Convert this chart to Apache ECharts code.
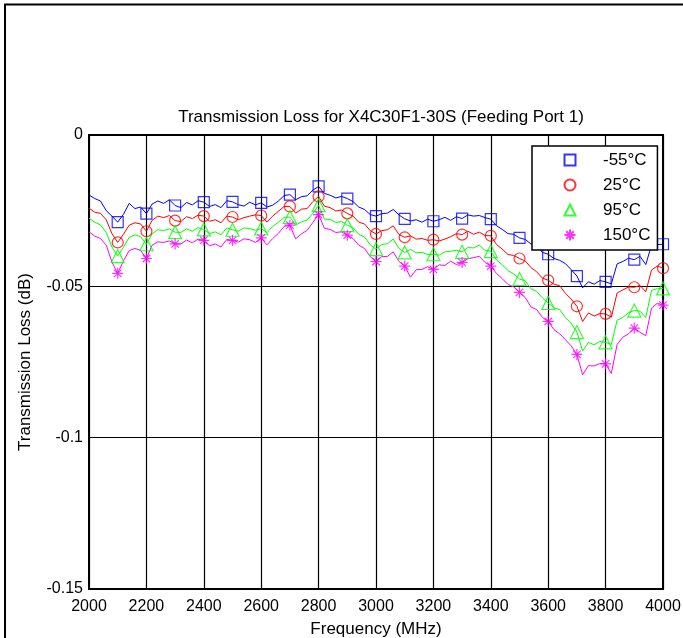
<!DOCTYPE html>
<html>
<head>
<meta charset="utf-8">
<script src="https://cdn.jsdelivr.net/npm/echarts@6/dist/echarts.min.js"></script>
<style>
html,body{margin:0;padding:0;background:#fff;}
#chart{width:683px;height:638px;}
</style>
</head>
<body>
<div id="chart"></div>
<script>
// Frequency axis: 2000..4000 MHz every 20 MHz
var freqStart = 2000;
var freqStep = 20;

var seriesNames = ['-55°C', '25°C', '95°C', '150°C'];

var lossM55 = [
-0.0198,-0.0210,-0.0218,-0.0250,-0.0268,-0.0288,-0.0262,-0.0226,-0.0243,-0.0238,
-0.0260,-0.0228,-0.0218,-0.0226,-0.0214,-0.0233,-0.0240,-0.0223,-0.0231,-0.0217,
-0.0222,-0.0236,-0.0230,-0.0240,-0.0217,-0.0221,-0.0230,-0.0235,-0.0222,-0.0231,
-0.0224,-0.0238,-0.0232,-0.0218,-0.0200,-0.0197,-0.0214,-0.0204,-0.0201,-0.0182,
-0.0170,-0.0193,-0.0199,-0.0208,-0.0203,-0.0210,-0.0220,-0.0238,-0.0246,-0.0263,
-0.0268,-0.0260,-0.0258,-0.0246,-0.0264,-0.0277,-0.0284,-0.0280,-0.0288,-0.0278,
-0.0285,-0.0280,-0.0272,-0.0282,-0.0270,-0.0276,-0.0264,-0.0268,-0.0266,-0.0273,
-0.0278,-0.0300,-0.0312,-0.0326,-0.0328,-0.0340,-0.0345,-0.0360,-0.0368,-0.0388,
-0.0394,-0.0408,-0.0414,-0.0425,-0.0445,-0.0466,-0.0505,-0.0485,-0.0493,-0.0481,
-0.0485,-0.0492,-0.0426,-0.0418,-0.0407,-0.0412,-0.0401,-0.0428,-0.0364,-0.0362,
-0.0361
];
var loss25 = [
-0.0242,-0.0255,-0.0259,-0.0280,-0.0326,-0.0355,-0.0328,-0.0298,-0.0290,-0.0294,
-0.0318,-0.0282,-0.0268,-0.0273,-0.0266,-0.0283,-0.0286,-0.0270,-0.0276,-0.0265,
-0.0268,-0.0285,-0.0280,-0.0290,-0.0268,-0.0271,-0.0280,-0.0273,-0.0268,-0.0264,
-0.0266,-0.0288,-0.0268,-0.0252,-0.0236,-0.0236,-0.0258,-0.0245,-0.0243,-0.0220,
-0.0203,-0.0235,-0.0240,-0.0251,-0.0248,-0.0259,-0.0268,-0.0288,-0.0294,-0.0316,
-0.0327,-0.0316,-0.0313,-0.0300,-0.0329,-0.0338,-0.0333,-0.0344,-0.0342,-0.0348,
-0.0346,-0.0350,-0.0344,-0.0336,-0.0326,-0.0329,-0.0318,-0.0328,-0.0321,-0.0332,
-0.0333,-0.0362,-0.0377,-0.0395,-0.0398,-0.0408,-0.0416,-0.0438,-0.0452,-0.0473,
-0.0480,-0.0493,-0.0498,-0.0523,-0.0542,-0.0566,-0.0616,-0.0588,-0.0598,-0.0590,
-0.0591,-0.0602,-0.0522,-0.0512,-0.0502,-0.0503,-0.0497,-0.0518,-0.0446,-0.0433,
-0.0440
];
var loss95 = [
-0.0275,-0.0288,-0.0297,-0.0322,-0.0370,-0.0400,-0.0371,-0.0338,-0.0330,-0.0336,
-0.0361,-0.0326,-0.0313,-0.0316,-0.0310,-0.0321,-0.0322,-0.0310,-0.0318,-0.0306,
-0.0312,-0.0326,-0.0320,-0.0330,-0.0307,-0.0313,-0.0318,-0.0307,-0.0309,-0.0315,
-0.0309,-0.0323,-0.0302,-0.0288,-0.0272,-0.0271,-0.0298,-0.0287,-0.0281,-0.0259,
-0.0232,-0.0278,-0.0279,-0.0289,-0.0286,-0.0298,-0.0307,-0.0328,-0.0337,-0.0363,
-0.0377,-0.0362,-0.0359,-0.0344,-0.0375,-0.0388,-0.0378,-0.0389,-0.0388,-0.0395,
-0.0394,-0.0397,-0.0386,-0.0384,-0.0381,-0.0386,-0.0372,-0.0373,-0.0364,-0.0381,
-0.0384,-0.0413,-0.0429,-0.0448,-0.0459,-0.0476,-0.0482,-0.0508,-0.0517,-0.0538,
-0.0555,-0.0571,-0.0577,-0.0603,-0.0622,-0.0651,-0.0714,-0.0685,-0.0693,-0.0682,
-0.0685,-0.0692,-0.0612,-0.0603,-0.0587,-0.0580,-0.0582,-0.0603,-0.0513,-0.0508,
-0.0507
];
var loss150 = [
-0.0320,-0.0334,-0.0342,-0.0364,-0.0420,-0.0457,-0.0416,-0.0382,-0.0375,-0.0381,
-0.0408,-0.0364,-0.0353,-0.0355,-0.0350,-0.0360,-0.0360,-0.0347,-0.0356,-0.0344,
-0.0348,-0.0366,-0.0360,-0.0370,-0.0345,-0.0348,-0.0354,-0.0343,-0.0346,-0.0355,
-0.0340,-0.0363,-0.0342,-0.0325,-0.0302,-0.0298,-0.0343,-0.0327,-0.0315,-0.0289,
-0.0263,-0.0308,-0.0312,-0.0322,-0.0320,-0.0331,-0.0342,-0.0364,-0.0375,-0.0402,
-0.0418,-0.0402,-0.0401,-0.0386,-0.0418,-0.0433,-0.0470,-0.0445,-0.0444,-0.0435,
-0.0444,-0.0429,-0.0431,-0.0417,-0.0428,-0.0421,-0.0409,-0.0405,-0.0401,-0.0421,
-0.0433,-0.0458,-0.0475,-0.0494,-0.0502,-0.0520,-0.0537,-0.0568,-0.0577,-0.0603,
-0.0616,-0.0643,-0.0657,-0.0676,-0.0697,-0.0725,-0.0792,-0.0762,-0.0763,-0.0755,
-0.0756,-0.0788,-0.0692,-0.0668,-0.0657,-0.0638,-0.0652,-0.0663,-0.0572,-0.0556,
-0.0562
];

var xTicks = [2000, 2200, 2400, 2600, 2800, 3000, 3200, 3400, 3600, 3800, 4000];
var yTicks = [0, -0.05, -0.1, -0.15];

var FONT = '"Liberation Sans", Arial, sans-serif';
var colors = ['#0000ff', '#ff0000', '#00ff00', '#ff00ff'];
var symbols = ['rect', 'circle', 'triangle',
  'path://M5,0L5,10M0,5L10,5M1.6,1.6L8.4,8.4M1.6,8.4L8.4,1.6'];
var symbolSizes = [11, 11, 13, 11];
var allLoss = [lossM55, loss25, loss95, loss150];

function toPairs(arr) {
  return arr.map(function (v, i) { return [freqStart + i * freqStep, v]; });
}
function markers(arr) {
  var out = [];
  for (var i = 5; i < arr.length; i += 5) out.push([freqStart + i * freqStep, arr[i]]);
  return out;
}

var series = [];
allLoss.forEach(function (arr, k) {
  series.push({
    name: seriesNames[k] + ' line',
    type: 'line',
    data: toPairs(arr),
    showSymbol: false,
    symbol: 'none',
    lineStyle: { color: colors[k], width: 1 },
    itemStyle: { color: colors[k] },
    z: 2,
    silent: true,
    animation: false
  });
});
allLoss.forEach(function (arr, k) {
  series.push({
    name: seriesNames[k],
    type: 'scatter',
    data: markers(arr),
    symbol: symbols[k],
    symbolSize: symbolSizes[k],
    symbolKeepAspect: true,
    itemStyle: { color: 'transparent', borderColor: colors[k], borderWidth: 1.2 },
    z: 3,
    silent: true,
    animation: false
  });
});

var chart = echarts.init(document.getElementById('chart'), null, { renderer: 'canvas' });
chart.setOption({
  animation: false,
  backgroundColor: '#fff',
  title: {
    text: 'Transmission Loss for X4C30F1-30S (Feeding Port 1)',
    left: 376, top: 104, textAlign: 'center',
    textStyle: { fontFamily: FONT, fontSize: 17, fontWeight: 'normal', color: '#000' }
  },
  legend: {
    data: seriesNames,
    orient: 'vertical',
    left: 532, top: 146,
    padding: [5.5, 7, 6.5, 31.5],
    itemWidth: 11, itemHeight: 11,
    itemGap: 8,
    backgroundColor: '#fff',
    borderColor: '#000', borderWidth: 1.5,
    textStyle: { fontFamily: FONT, fontSize: 17, color: '#000', lineHeight: 17, padding: [0, 0, 0, 22.5] },
    selectedMode: false
  },
  grid: {
    left: 89, right: 20, top: 135, bottom: 49,
    containLabel: false,
    outerBoundsMode: 'none',
    show: true, borderColor: '#000', borderWidth: 2, backgroundColor: 'transparent'
  },
  xAxis: {
    type: 'value', min: xTicks[0], max: xTicks[xTicks.length - 1], interval: 200,
    name: 'Frequency (MHz)', nameLocation: 'middle', nameGap: 32,
    nameTextStyle: { fontFamily: FONT, fontSize: 17, color: '#000' },
    axisLine: { show: true, lineStyle: { color: '#000', width: 2 } },
    axisTick: { show: false },
    axisLabel: { fontFamily: FONT, fontSize: 16, color: '#000', margin: 10,
      formatter: function (v) { return String(v); } },
    splitLine: { show: true, lineStyle: { color: '#000', width: 1.2 } }
  },
  yAxis: {
    type: 'value', min: yTicks[3], max: yTicks[0], interval: 0.05,
    name: 'Transmission Loss (dB)', nameLocation: 'middle', nameGap: 55,
    nameTextStyle: { fontFamily: FONT, fontSize: 17, color: '#000' },
    axisLine: { show: true, lineStyle: { color: '#000', width: 2 } },
    axisTick: { show: false },
    axisLabel: { fontFamily: FONT, fontSize: 16, color: '#000', margin: 6,
      formatter: function (v) { return String(Math.round(v * 100) / 100); } },
    splitLine: { show: true, lineStyle: { color: '#000', width: 1.2 } }
  },
  graphic: [
    { type: 'line', shape: { x1: 4, y1: 4.5, x2: 683, y2: 4.5 }, style: { stroke: '#000', lineWidth: 2 } },
    { type: 'line', shape: { x1: 5, y1: 4, x2: 5, y2: 638 }, style: { stroke: '#000', lineWidth: 2 } }
  ],
  series: series
});
</script>
</body>
</html>
